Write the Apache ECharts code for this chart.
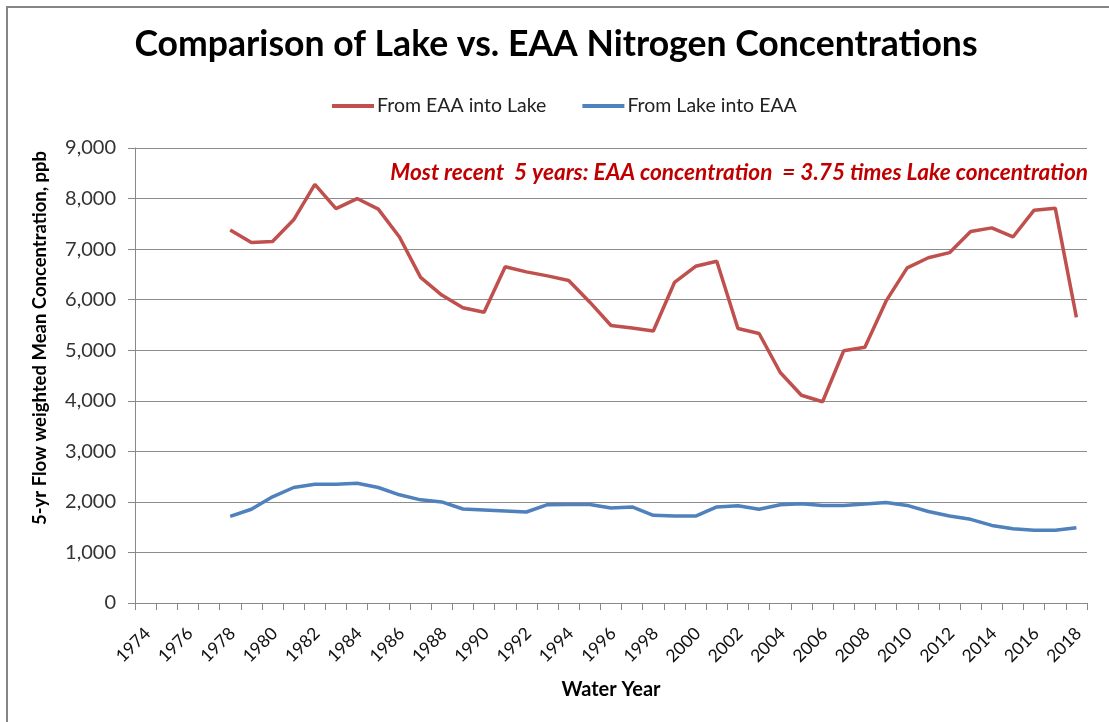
<!DOCTYPE html>
<html>
<head>
<meta charset="utf-8">
<script src="https://cdn.jsdelivr.net/npm/echarts@6/dist/echarts.min.js"></script>
<style>
	html, body { margin: 0; padding: 0; background: #fff; }
	#frame { position: absolute; left: 6px; top: 6px; width: 1200px; height: 800px; border-left: 2px solid #868686; border-top: 2px solid #868686; }
	#chart { position: absolute; left: 0; top: 0; width: 1109px; height: 722px; }
</style>
</head>
<body>
<div id="frame"></div>
<div id="chart"></div>
<script>
// water years on the x axis
const years = [
	'1974', '1975', '1976', '1977', '1978', '1979', '1980', '1981', '1982', '1983',
	'1984', '1985', '1986', '1987', '1988', '1989', '1990', '1991', '1992', '1993',
	'1994', '1995', '1996', '1997', '1998', '1999', '2000', '2001', '2002', '2003',
	'2004', '2005', '2006', '2007', '2008', '2009', '2010', '2011', '2012', '2013',
	'2014', '2015', '2016', '2017', '2018',
];
// both series start in 1978
const firstYear = '1978';

// 5-yr flow weighted mean concentration, ppb (1978 - 2018)
const eaaIntoLake = [
	7380, 7130, 7150, 7580, 8280, 7800, 8000, 7790, 7240, 6440,
	6090, 5840, 5750, 6650, 6550, 6470, 6380, 5950, 5490, 5440,
	5380, 6340, 6660, 6760, 5430, 5330, 4560, 4110, 3980, 4990,
	5060, 5970, 6630, 6830, 6930, 7350, 7420, 7240, 7770, 7810,
	5650,
];
const lakeIntoEaa = [
	1715, 1855, 2100, 2285, 2350, 2350, 2370, 2285, 2140, 2040,
	2000, 1860, 1840, 1820, 1800, 1945, 1950, 1950, 1880, 1900,
	1735, 1720, 1720, 1900, 1925, 1855, 1945, 1965, 1930, 1930,
	1960, 1990, 1930, 1810, 1720, 1655, 1535, 1470, 1440, 1440,
	1490,
];

const yTicks = { min: 0, max: 9000, step: 1000 };

const fontFamily = 'Lato, "Open Sans", sans-serif';

// pair values with their year so the empty 1974-1977 slots stay blank
function toPairs(values) {
	const start = years.indexOf(firstYear);
	return values.map((v, i) => [years[start + i], v]);
}

const chart = echarts.init(document.getElementById('chart'));

const option = {
	backgroundColor: 'transparent',
	animation: false,
	title: {
		text: 'Comparison of Lake vs. EAA Nitrogen Concentrations',
		left: 551,
		textAlign: 'center',
		top: 22,
		textStyle: { fontFamily: fontFamily, fontSize: 35.6, fontWeight: 'bold', color: '#000' },
	},
	legend: {
		left: 332,
		top: 96,
		padding: 0,
		icon: 'rect',
		itemWidth: 42,
		itemHeight: 4,
		itemGap: 36,
		textStyle: { fontFamily: fontFamily, fontSize: 19.5, color: '#222', padding: [0, 0, 0, -2] },
		data: ['From EAA into Lake', 'From Lake into EAA'],
	},
	grid: { left: 135, right: 22, top: 148, bottom: 119 },
	xAxis: {
		type: 'category',
		data: years,
		boundaryGap: true,
		name: 'Water Year',
		nameLocation: 'middle',
		nameGap: 77,
		nameTextStyle: { fontFamily: fontFamily, fontSize: 20, fontWeight: 'bold', color: '#000' },
		axisLine: { lineStyle: { color: '#888', width: 1 } },
		axisTick: { show: true, interval: 0, length: 7, lineStyle: { color: '#888' } },
		axisLabel: {
			interval: 1,
			rotate: 45,
			margin: 17,
			verticalAlign: 'top',
			padding: [0, 6, 0, 0],
			fontFamily: fontFamily,
			fontSize: 17.5,
			color: '#111',
		},
		splitLine: { show: false },
	},
	yAxis: {
		type: 'value',
		min: yTicks.min,
		max: yTicks.max,
		interval: yTicks.step,
		axisLine: { show: true, lineStyle: { color: '#888', width: 1 } },
		axisTick: { show: true, length: 7, lineStyle: { color: '#888' } },
		axisLabel: {
			margin: 19,
			fontFamily: fontFamily,
			fontSize: 20,
			color: '#333',
			formatter: (v) => v.toLocaleString('en-US'),
		},
		splitLine: { lineStyle: { color: '#8c8c8c', width: 1 } },
	},
	graphic: [
		{
			type: 'text',
			x: 40,
			y: 338,
			rotation: Math.PI / 2,
			style: {
				text: '5-yr Flow weighted Mean Concentration, ppb',
				fontFamily: fontFamily,
				fontSize: 18.5,
				fontWeight: 'bold',
				fill: '#000',
				align: 'center',
				verticalAlign: 'middle',
			},
		},
		{
			type: 'text',
			x: 1088,
			y: 173,
			style: {
				text: 'Most recent  5 years: EAA concentration  = 3.75 times Lake concentration',
				fontFamily: fontFamily,
				fontSize: 22.6,
				fontWeight: 'bold',
				fontStyle: 'italic',
				fill: '#c00000',
				align: 'right',
				verticalAlign: 'middle',
			},
		},
	],
	series: [
		{
			name: 'From EAA into Lake',
			type: 'line',
			data: toPairs(eaaIntoLake),
			showSymbol: false,
			symbol: 'none',
			lineStyle: { color: '#c0504d', width: 3.5 },
			itemStyle: { color: '#c0504d' },
		},
		{
			name: 'From Lake into EAA',
			type: 'line',
			data: toPairs(lakeIntoEaa),
			showSymbol: false,
			symbol: 'none',
			lineStyle: { color: '#4f81bd', width: 3.5 },
			itemStyle: { color: '#4f81bd' },
		},
	],
};

chart.setOption(option);
</script>
</body>
</html>
